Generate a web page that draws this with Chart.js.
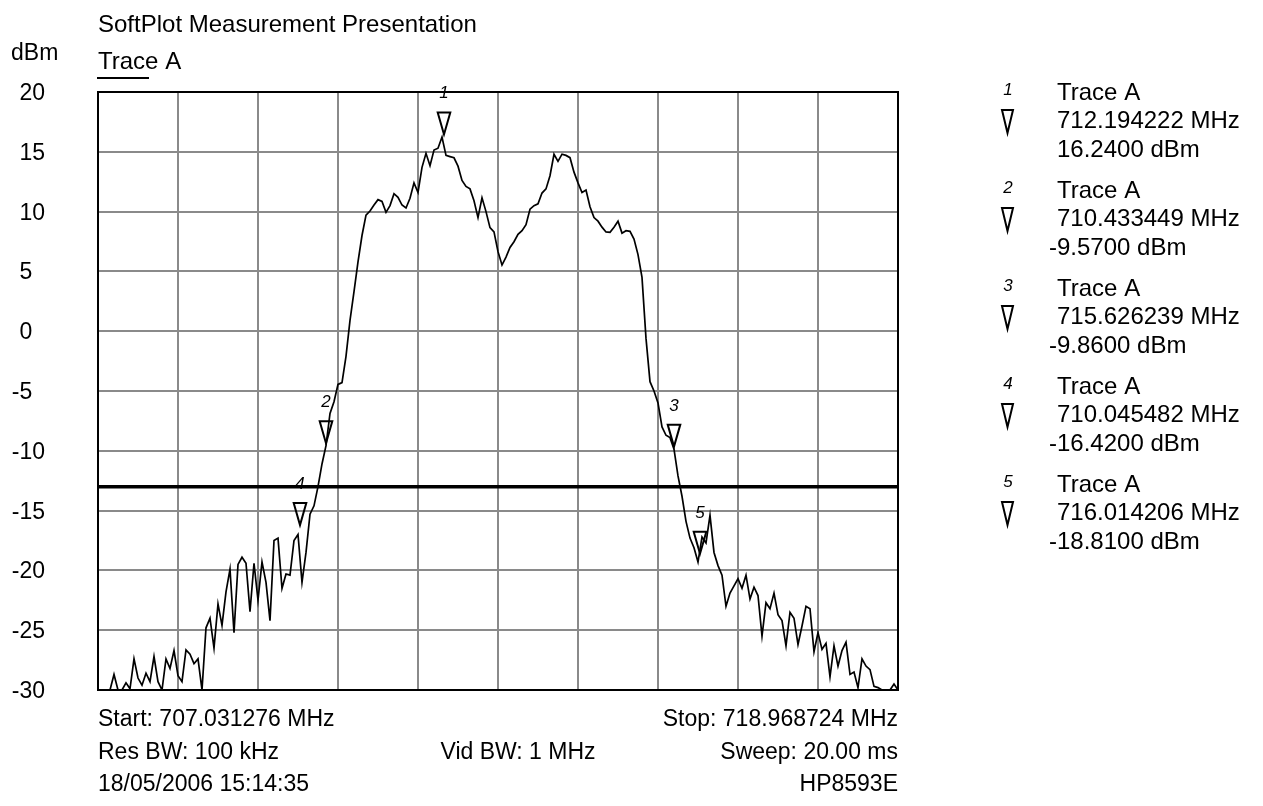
<!DOCTYPE html>
<html>
<head>
<meta charset="utf-8">
<title>SoftPlot Measurement Presentation</title>
<script src="https://cdn.jsdelivr.net/npm/chart.js@4.4.1/dist/chart.umd.min.js"></script>
<style>
  html, body { margin: 0; padding: 0; background: #fff; }
  #wrap { position: relative; width: 1263px; height: 806px; }
</style>
</head>
<body>
<div id="wrap"><canvas id="spectrum" width="1263" height="806"></canvas></div>
<script>
// sweep settings (from the footer of the plot)
const startMHz = 707.031276;
const stopMHz = 718.968724;
const yTicks = [20, 15, 10, 5, 0, -5, -10, -15, -20, -25, -30];

// Trace A, dBm, 201 points
const traceDbm = [
  -30, -30, -30, -30, -28.7, -30, -30, -29.4, -29.9, -27.4,
  -29.0, -29.6, -28.6, -29.3, -27.2, -29.3, -30, -27.4, -28.2, -26.7,
  -28.8, -29.3, -26.65, -27.0, -27.8, -27.4, -30, -24.8, -24.0, -26.5,
  -22.8, -24.6, -21.8, -19.9, -25.2, -19.5, -18.9, -19.4, -23.45, -19.4,
  -22.5, -19.3, -21.0, -24.2, -17.5, -17.3, -21.5, -20.3, -20.4, -17.5,
  -17.0, -21.0, -18.5, -15.3, -14.6, -13.0, -11.1, -9.57, -6.87, -5.9,
  -4.45, -4.3, -2.1, 0.9, 3.3, 5.8, 8.0, 9.7, 10.05, 10.55,
  11.0, 10.85, 9.94, 10.5, 11.5, 11.2, 10.55, 10.3, 11.11, 12.4,
  11.6, 13.7, 14.87, 13.84, 15.15, 15.3, 16.24, 14.7, 14.6, 14.5,
  13.8, 12.6, 12.1, 11.9, 10.9, 9.5, 11.15, 10.0, 8.66, 8.3,
  6.65, 5.53, 6.2, 7.0, 7.48, 8.1, 8.4, 8.9, 10.2, 10.5,
  10.65, 11.55, 11.9, 13.0, 14.79, 14.2, 14.8, 14.7, 14.51, 13.3,
  12.4, 11.6, 11.8, 10.4, 9.5, 9.2, 8.7, 8.3, 8.27, 8.7,
  9.2, 8.2, 8.4, 8.35, 7.7, 6.4, 4.5, -0.6, -4.22, -5.0,
  -6.0, -8.0, -8.7, -8.9, -9.86, -12.1, -13.8, -15.9, -17.3, -18.1,
  -19.3, -17.2, -17.7, -15.4, -18.5, -19.6, -20.4, -23.0, -21.9, -21.3,
  -20.7, -21.5, -20.4, -22.4, -21.4, -22.1, -25.5, -22.7, -23.2, -21.9,
  -23.7, -24.2, -26.3, -23.5, -24.0, -26.2, -24.65, -23.0, -23.2, -26.8,
  -25.2, -26.6, -26.1, -28.9, -26.3, -28.0, -26.7, -26.0, -28.7, -28.5,
  -29.8, -27.4, -28.0, -28.3, -29.7, -29.8, -30, -30, -30, -29.5,
  -30
];

// limit line
const limitDbm = -13;

// markers
const markerIds = ['1', '2', '3', '4', '5'];
const markerMHz = [712.194222, 710.433449, 715.626239, 710.045482, 716.014206];
const markerDbm = [16.24, -9.57, -9.86, -16.42, -18.81];

// header / footer text
const titleText = 'SoftPlot Measurement Presentation';
const traceName = 'Trace A';
const unitText = 'dBm';
const footerLeft = ['Start: 707.031276 MHz', 'Res BW: 100 kHz', '18/05/2006 15:14:35'];
const footerMid = ['', 'Vid BW: 1 MHz', ''];
const footerRight = ['Stop: 718.968724 MHz', 'Sweep: 20.00 ms', 'HP8593E'];

const FONT = '"Liberation Sans", Arial, sans-serif';
const stepMHz = (stopMHz - startMHz) / (traceDbm.length - 1);
const tracePoints = traceDbm.map((v, i) => ({ x: startMHz + i * stepMHz, y: v }));

// text with the minus sign hanging left of the digits
function signedText(ctx, txt, x, y) {
  const w = txt.startsWith('-') ? ctx.measureText('-').width : 0;
  ctx.textAlign = 'left';
  ctx.fillText(txt, x - w, y);
}

const overlay = {
  id: 'overlay',
  beforeDatasetsDraw(chart) {
    const { ctx, chartArea: a } = chart;
    ctx.save();
    ctx.strokeStyle = '#000';
    ctx.lineWidth = 2;
    ctx.strokeRect(a.left, a.top, a.right - a.left, a.bottom - a.top);
    ctx.restore();
  },
  afterDatasetsDraw(chart) {
    const { ctx } = chart;
    const xs = chart.scales.x, ys = chart.scales.y;
    ctx.save();
    ctx.strokeStyle = '#000';
    ctx.fillStyle = '#000';
    ctx.lineWidth = 2;
    markerIds.forEach((id, i) => {
      const px = xs.getPixelForValue(markerMHz[i]);
      const tip = ys.getPixelForValue(markerDbm[i]) - 2.5;
      const top = tip - 22;
      ctx.beginPath();
      ctx.moveTo(px - 6.3, top);
      ctx.lineTo(px + 6.3, top);
      ctx.lineTo(px, tip);
      ctx.closePath();
      ctx.stroke();
      ctx.font = 'italic 17px ' + FONT;
      ctx.textAlign = 'center';
      ctx.fillText(id, px, top - 14);
    });
    ctx.restore();
  },
  afterDraw(chart) {
    const { ctx, chartArea: a } = chart;
    const ys = chart.scales.y;
    ctx.save();
    ctx.fillStyle = '#000';
    ctx.textBaseline = 'alphabetic';

    // header
    ctx.font = '24px ' + FONT;
    ctx.textAlign = 'left';
    ctx.fillText(titleText, a.left, 32);
    ctx.fillText(traceName, a.left, 68.5);
    ctx.font = '23px ' + FONT;
    ctx.fillText(unitText, 11, 60);
    ctx.strokeStyle = '#000';
    ctx.lineWidth = 2;
    ctx.beginPath();
    ctx.moveTo(a.left - 1, 78);
    ctx.lineTo(a.left + 51, 78);
    ctx.stroke();

    // y labels
    ctx.font = '23px ' + FONT;
    yTicks.forEach(v => signedText(ctx, String(v), 19.5, ys.getPixelForValue(v) + 8));

    // marker table
    markerIds.forEach((id, i) => {
      const b = 100 + 98 * i;
      ctx.font = 'italic 17px ' + FONT;
      ctx.textAlign = 'center';
      ctx.fillText(id, 1008, b - 5);
      ctx.beginPath();
      ctx.moveTo(1002, b + 10);
      ctx.lineTo(1013, b + 10);
      ctx.lineTo(1007.5, b + 33);
      ctx.closePath();
      ctx.stroke();
      ctx.font = '24px ' + FONT;
      ctx.textAlign = 'left';
      ctx.fillText(traceName, 1057, b);
      ctx.fillText(markerMHz[i].toFixed(6) + ' MHz', 1057, b + 28.3);
      signedText(ctx, markerDbm[i].toFixed(4) + ' dBm', 1057, b + 56.7);
    });

    // footer
    ctx.font = '23px ' + FONT;
    [726, 759, 791].forEach((base, r) => {
      ctx.textAlign = 'left';
      ctx.fillText(footerLeft[r], a.left, base);
      ctx.textAlign = 'center';
      ctx.fillText(footerMid[r], 518, base);
      ctx.textAlign = 'right';
      ctx.fillText(footerRight[r], a.right, base);
    });
    ctx.restore();
  }
};

new Chart(document.getElementById('spectrum'), {
  type: 'line',
  data: {
    datasets: [
      {
        label: traceName,
        data: tracePoints,
        borderColor: '#000',
        borderWidth: 1.7,
        pointRadius: 0,
        tension: 0
      },
      {
        label: 'Limit',
        data: [{ x: startMHz, y: limitDbm }, { x: stopMHz, y: limitDbm }],
        borderColor: '#000',
        borderWidth: 3.5,
        pointRadius: 0,
        clip: false
      }
    ]
  },
  options: {
    responsive: false,
    animation: false,
    events: [],
    layout: { padding: { left: 98, top: 92, right: 365, bottom: 116 } },
    plugins: { legend: { display: false }, tooltip: { enabled: false } },
    scales: {
      x: {
        type: 'linear',
        min: startMHz,
        max: stopMHz,
        afterBuildTicks(scale) {
          scale.ticks = Array.from({ length: 11 }, (_, k) => ({ value: startMHz + k * (stopMHz - startMHz) / 10 }));
        },
        ticks: { display: false },
        grid: { color: '#8a8a8a', lineWidth: 2, drawTicks: false },
        border: { display: false }
      },
      y: {
        min: -30,
        max: 20,
        ticks: { display: false, stepSize: 5 },
        grid: { color: '#8a8a8a', lineWidth: 2, drawTicks: false },
        border: { display: false }
      }
    }
  },
  plugins: [overlay]
});
</script>
</body>
</html>
